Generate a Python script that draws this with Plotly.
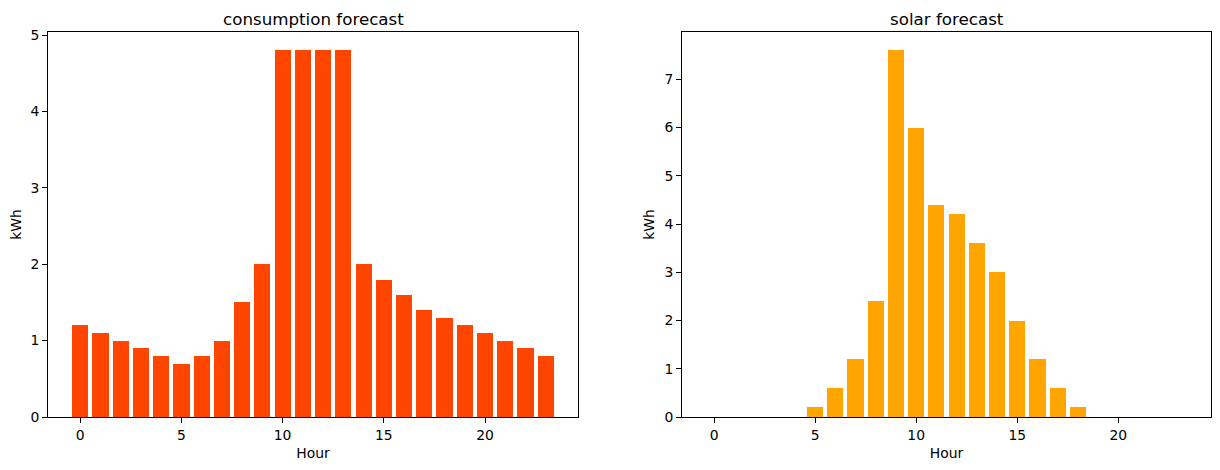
import plotly.graph_objects as go

hours = list(range(24))
consumption = [1.2, 1.1, 1.0, 0.9, 0.8, 0.7, 0.8, 1.0, 1.5, 2.0, 4.8, 4.8,
               4.8, 4.8, 2.0, 1.8, 1.6, 1.4, 1.3, 1.2, 1.1, 1.0, 0.9, 0.8]
solar = [0, 0, 0, 0, 0, 0.2, 0.6, 1.2, 2.4, 7.6, 6.0, 4.4,
         4.2, 3.6, 3.0, 2.0, 1.2, 0.6, 0.2, 0, 0, 0, 0, 0]
titles = ["consumption forecast", "solar forecast"]
colors = ["#FF4500", "#FFA500"]

OFF = 8  # page body margin
W, H = 1220 - 2 * OFF, 470 - 2 * OFF
left_dom = [(48 - OFF) / W, (578 - OFF) / W]
right_dom = [(682 - OFF) / W, (1211 - OFF) / W]
ydom = [1 - (417 - OFF) / H, 1 - (32 - OFF) / H]

fig = go.Figure()
fig.add_trace(go.Bar(x=hours, y=consumption, width=0.8, marker=dict(color=colors[0], line=dict(width=0)),
                     xaxis="x", yaxis="y", showlegend=False))
fig.add_trace(go.Bar(x=hours, y=solar, width=0.8, marker=dict(color=colors[1], line=dict(width=0)),
                     xaxis="x2", yaxis="y2", showlegend=False))

font = dict(family="DejaVu Sans", size=13.9, color="black")
xr = [-1.59, 24.59]
common_x = dict(range=xr, tickvals=[0, 5, 10, 15, 20], ticks="outside", ticklen=5, tickcolor="black",
                showline=True, linecolor="black", linewidth=1, mirror=True, showgrid=False,
                zeroline=False, tickfont=font, automargin=False,
                title=dict(text="Hour", font=font, standoff=6))
common_y = dict(ticks="outside", ticklen=5, tickcolor="black", showline=True, linecolor="black",
                linewidth=1, mirror=True, showgrid=False, zeroline=False, tickfont=font, automargin=False,
                title=dict(text="kWh", font=font, standoff=6))

fig.update_layout(
    width=W, height=H, margin=dict(l=0, r=0, t=0, b=0, autoexpand=False),
    plot_bgcolor="white", paper_bgcolor="white", bargap=0,
    xaxis=dict(domain=left_dom, anchor="y", **common_x),
    yaxis=dict(domain=ydom, anchor="x", range=[0, 5.04], dtick=1, **common_y),
    xaxis2=dict(domain=right_dom, anchor="y2", **common_x),
    yaxis2=dict(domain=ydom, anchor="x2", range=[0, 7.98], dtick=1, **common_y),
    font=font,
)
for dom, t in zip([left_dom, right_dom], titles):
    fig.add_annotation(text=t, x=(dom[0] + dom[1]) / 2, y=ydom[1], xref="paper", yref="paper",
                       xanchor="center", yanchor="bottom", yshift=1, showarrow=False,
                       font=dict(family="DejaVu Sans", size=16.7, color="black"))

fig.write_html("out.html")
